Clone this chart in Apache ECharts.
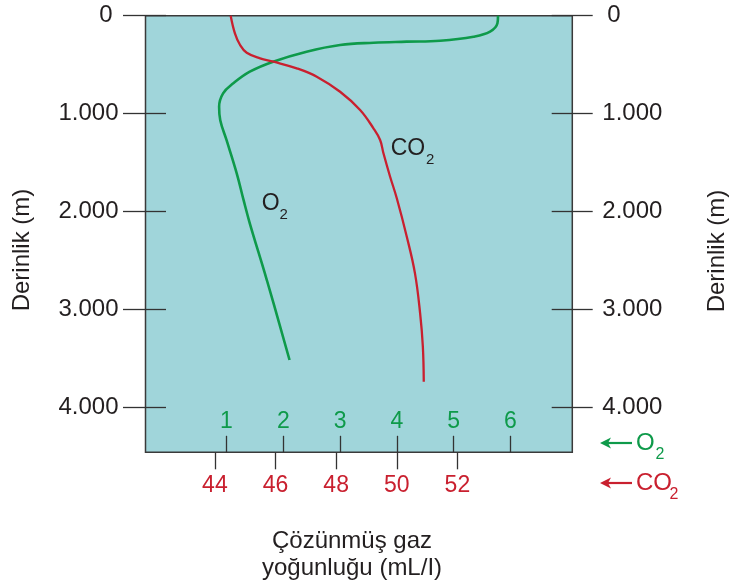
<!DOCTYPE html>
<html>
<head>
<meta charset="utf-8">
<script src="https://cdn.jsdelivr.net/npm/echarts@6/dist/echarts.min.js"></script>
<style>
  html, body { margin: 0; padding: 0; background: #fff; }
  #chart { width: 729px; height: 586px; }
</style>
</head>
<body>
<div id="chart"></div>
<script>
// tick values
var depthTicks = [0, 1000, 2000, 3000, 4000];
var o2Ticks = [1, 2, 3, 4, 5, 6];
var co2Ticks = [44, 46, 48, 50, 52];

// O2 profile (mL/l) vs depth (m)
var o2Value = [5.78, 5.77, 5.64, 5.35, 4.76, 4.17, 3.59, 3.00, 2.41, 1.82, 1.41, 1.12, 0.94, 0.87, 0.89, 1.00, 1.18, 1.30, 1.41, 1.71, 2.11];
var o2Depth = [0, 78, 163, 214, 255, 265, 276, 299, 367, 469, 571, 690, 792, 929, 1066, 1268, 1608, 1880, 2118, 2697, 3513];

// CO2 profile (mL/l) vs depth (m)
var co2Value = [44.52, 44.66, 44.83, 45.05, 45.49, 45.93, 46.70, 47.36, 48.13, 48.79, 49.23, 49.45, 49.56, 49.78, 50.00, 50.33, 50.60, 50.77, 50.86, 50.89];
var co2Depth = [0, 180, 299, 378, 435, 469, 537, 622, 776, 962, 1149, 1268, 1404, 1643, 1863, 2255, 2629, 3037, 3378, 3735];

var GREEN = '#0e9a4a';
var RED = '#c9202f';
var INK = '#231f20';
var FONT = 'Liberation Sans, Arial, sans-serif';

function pairs(xs, ys) {
  return xs.map(function (x, i) { return [x, ys[i]]; });
}

function depthLabel(v) {
  return v === 0 ? '{z|0}' : (v / 1000) + '.000';
}

var myChart = echarts.init(document.getElementById('chart'));

var yBase = {
  type: 'value',
  min: 0,
  max: 4455,
  inverse: true,
  splitLine: { show: false },
  axisLine: { show: false, onZero: false }
};

function yAxisDef(pos, inside, labels, len) {
  return Object.assign({}, yBase, {
    position: pos,
    axisTick: {
      show: true,
      inside: inside,
      length: len,
      customValues: depthTicks,
      lineStyle: { color: '#333', width: 1.3 }
    },
    axisLabel: {
      show: labels,
      customValues: depthTicks,
      margin: pos === 'left' ? 27 : 30,
      color: INK,
      fontSize: 24,
      fontFamily: FONT,
      formatter: depthLabel,
      rich: {
        z: {
          fontSize: 24,
          fontFamily: FONT,
          color: INK,
          padding: pos === 'left' ? [0, 6, 0, 0] : [0, 0, 0, 5]
        }
      }
    }
  });
}

myChart.setOption({
  backgroundColor: '#fff',
  animation: false,
  grid: {
    left: 145.5,
    top: 15.7,
    width: 426.8,
    height: 436.6,
    show: true,
    backgroundColor: '#a0d5da',
    borderColor: '#3a3a3a',
    borderWidth: 1.5,
    outerBoundsMode: 'none'
  },
  xAxis: [
    {
      // O2 scale, inside the plot
      type: 'value',
      position: 'bottom',
      min: -0.426,
      max: 7.088,
      splitLine: { show: false },
      axisLine: { show: false, onZero: false },
      axisTick: {
        inside: true,
        length: 16.5,
        customValues: o2Ticks,
        lineStyle: { color: '#333', width: 1.3 }
      },
      axisLabel: {
        inside: true,
        margin: 19,
        customValues: o2Ticks,
        color: GREEN,
        fontSize: 23,
        fontFamily: FONT
      }
    },
    {
      // CO2 scale, below the plot
      type: 'value',
      position: 'bottom',
      min: 41.71,
      max: 55.79,
      splitLine: { show: false },
      axisLine: { show: false, onZero: false },
      axisTick: {
        inside: false,
        length: 17,
        customValues: co2Ticks,
        lineStyle: { color: '#333', width: 1.3 }
      },
      axisLabel: {
        margin: 22,
        customValues: co2Ticks,
        color: RED,
        fontSize: 23,
        fontFamily: FONT
      }
    }
  ],
  yAxis: [
    yAxisDef('left', false, true, 22.5),
    yAxisDef('left', true, false, 20.5),
    yAxisDef('right', false, true, 20.4),
    yAxisDef('right', true, false, 20.6)
  ],
  series: [
    {
      name: 'O2',
      type: 'line',
      xAxisIndex: 0,
      yAxisIndex: 0,
      data: pairs(o2Value, o2Depth),
      smooth: 0.4,
      showSymbol: false,
      lineStyle: { color: GREEN, width: 2.6 }
    },
    {
      name: 'CO2',
      type: 'line',
      xAxisIndex: 1,
      yAxisIndex: 0,
      data: pairs(co2Value, co2Depth),
      smooth: 0.4,
      showSymbol: false,
      lineStyle: { color: RED, width: 2.3 }
    }
  ],
  graphic: [
    // axis titles
    {
      type: 'text', x: 22, y: 250, rotation: Math.PI / 2,
      style: { text: 'Derinlik (m)', font: '24px ' + FONT, fill: INK, align: 'center', verticalAlign: 'middle' }
    },
    {
      type: 'text', x: 717, y: 251, rotation: Math.PI / 2,
      style: { text: 'Derinlik (m)', font: '24px ' + FONT, fill: INK, align: 'center', verticalAlign: 'middle' }
    },
    {
      type: 'text', x: 352, y: 555,
      style: { text: 'Çözünmüş gaz\nyoğunluğu (mL/I)', font: '24px ' + FONT, lineHeight: 27, fill: INK, align: 'center', verticalAlign: 'middle' }
    },
    // curve labels
    { type: 'text', x: 390.7, y: 149, style: { text: 'CO', font: '23px ' + FONT, fill: INK, verticalAlign: 'middle' } },
    { type: 'text', x: 426, y: 159.5, style: { text: '2', font: '15px ' + FONT, fill: INK, verticalAlign: 'middle' } },
    { type: 'text', x: 261.7, y: 203.3, style: { text: 'O', font: '23px ' + FONT, fill: INK, verticalAlign: 'middle' } },
    { type: 'text', x: 279.5, y: 214.5, style: { text: '2', font: '15px ' + FONT, fill: INK, verticalAlign: 'middle' } },
    // scale keys
    { type: 'line', shape: { x1: 606, y1: 443, x2: 632, y2: 443 }, style: { stroke: GREEN, lineWidth: 2.2 } },
    { type: 'polygon', shape: { points: [[600, 443], [611, 437.5], [608, 443], [611, 448.5]] }, style: { fill: GREEN } },
    { type: 'text', x: 636, y: 443, style: { text: 'O', font: '24px ' + FONT, fill: GREEN, verticalAlign: 'middle' } },
    { type: 'text', x: 655.5, y: 455, style: { text: '2', font: '16px ' + FONT, fill: GREEN, verticalAlign: 'middle' } },
    { type: 'line', shape: { x1: 606, y1: 483, x2: 632, y2: 483 }, style: { stroke: RED, lineWidth: 2.2 } },
    { type: 'polygon', shape: { points: [[600, 483], [611, 477.5], [608, 483], [611, 488.5]] }, style: { fill: RED } },
    { type: 'text', x: 636, y: 483, style: { text: 'CO', font: '24px ' + FONT, fill: RED, verticalAlign: 'middle' } },
    { type: 'text', x: 669.5, y: 495, style: { text: '2', font: '16px ' + FONT, fill: RED, verticalAlign: 'middle' } }
  ]
});
</script>
</body>
</html>
